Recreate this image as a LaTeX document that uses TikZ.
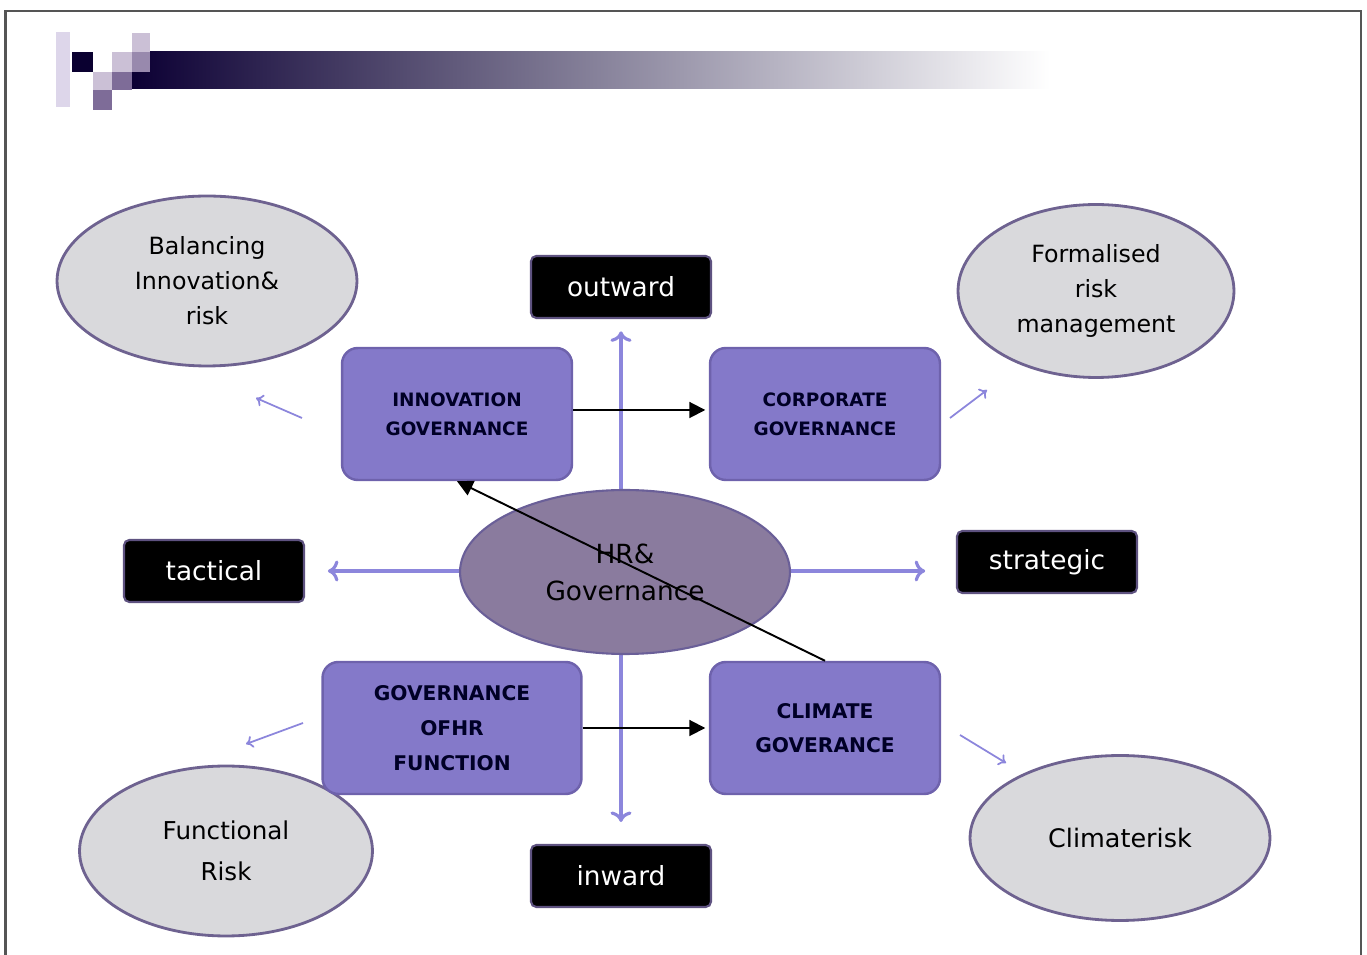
\documentclass[tikz,border=0pt]{standalone}
\usepackage{fontspec}
\setmainfont{DejaVu Sans}
\usepackage[HTML]{xcolor}
\usepackage{tikz}
\usetikzlibrary{positioning, arrows, arrows.meta, shapes.geometric}

\definecolor{boxfill}{HTML}{8479C9}
\definecolor{boxline}{HTML}{6E62AC}
\definecolor{hubfill}{HTML}{8A7B9E}
\definecolor{hubline}{HTML}{6A5F98}
\definecolor{ovalfill}{HTML}{D9D9DC}
\definecolor{ovalline}{HTML}{6E6290}
\definecolor{axisline}{HTML}{8C86DC}
\definecolor{tagline}{HTML}{5E5280}
\definecolor{framegray}{HTML}{555555}
\definecolor{bardark}{HTML}{0C0034}
\definecolor{barmid}{HTML}{856A7C}
\definecolor{sqdark}{HTML}{0A0030}
\definecolor{sqlight}{HTML}{CBC0D6}
\definecolor{sqmid}{HTML}{7E6C98}
\definecolor{sqpale}{HTML}{DDD6EA}

\begin{document}
\begin{tikzpicture}[x=0.02cm, y=-0.02cm,
  oval/.style={ellipse, draw=ovalline, line width=1.6pt, fill=ovalfill, align=center, inner sep=0pt, font=\fontsize{13.5}{20}\selectfont},
  tag/.style={rectangle, rounded corners=3pt, draw=tagline, line width=1.2pt, fill=black, text=white, minimum width=3.6cm, minimum height=1.24cm, font=\fontsize{15}{18}\selectfont},
  govbox/.style={rectangle, rounded corners=9pt, draw=boxline, line width=1.4pt, fill=boxfill, text=black!85!blue, align=center, minimum width=4.6cm, minimum height=2.64cm},
  axis/.style={draw=axisline, line width=1.8pt, {To[length=6pt,width=12pt]}-{To[length=6pt,width=12pt]}},
  link/.style={-{Triangle[length=9pt,width=9pt]}, line width=1.1pt},
  hint/.style={-{To[length=4pt,width=7pt]}, draw=axisline, line width=1pt}]
\useasboundingbox (0,0) rectangle (1367,955);

% frame
\draw[framegray, line width=1.2pt] (5.5,955) -- (5.5,11) -- (1361,11) -- (1361,955);

% header bar
\shade[left color=bardark, middle color=barmid, right color=white] (132,52) rectangle (1050,89);
\fill[sqpale] (56,32) rectangle (70,107);
\fill[sqdark] (72,52) rectangle (93,72);
\fill[sqlight] (112,52) rectangle (132,72);
\fill[sqlight] (132,33) rectangle (150,52);
\fill[sqmid!80!white] (132,52) rectangle (150,72);
\fill[sqlight] (93,72) rectangle (112,90);
\fill[sqmid] (112,72) rectangle (132,90);
\fill[sqmid] (93,90) rectangle (112,110);

% outer ovals
\node[oval, minimum width=6cm, minimum height=3.4cm] (balance) at (207,281) {Balancing\\Innovation\&\\risk};
\node[oval, minimum width=5.52cm, minimum height=3.46cm] (formal) at (1096,291) {Formalised\\risk\\management};
\node[oval, minimum width=5.86cm, minimum height=3.4cm, font=\fontsize{14}{23}\selectfont] (funcrisk) at (226,851) {Functional\\Risk};
\node[oval, minimum width=6cm, minimum height=3.3cm, font=\fontsize{14.5}{20}\selectfont] (climrisk) at (1120,838) {Climaterisk};

% direction tags
\node[tag] (outward) at (621,287) {outward};
\node[tag] (inward) at (621,876) {inward};
\node[tag] (tactical) at (214,571) {tactical};
\node[tag] (strategic) at (1047,562) {strategic};

% axes
\draw[axis, shorten <=7pt, shorten >=12.5pt] (outward) -- (inward);
\draw[axis, shorten <=13pt, shorten >=17.5pt] (tactical.east) -- (tactical.east -| strategic.west);

% centre
\node[ellipse, draw=hubline, line width=1.2pt, fill=hubfill, minimum width=6.6cm, minimum height=3.28cm, align=center, font=\fontsize{15}{21}\selectfont] (hub) at (625,572) {HR\&\\Governance};

% governance boxes
\node[govbox, font=\bfseries\fontsize{10.5}{16.5}\selectfont] (innov) at (457,414) {INNOVATION\\GOVERNANCE};
\node[govbox, font=\bfseries\fontsize{10.5}{16.5}\selectfont] (corp) at (825,414) {CORPORATE\\GOVERNANCE};
\node[govbox, minimum width=5.18cm, font=\bfseries\fontsize{11.5}{20}\selectfont] (govhr) at (452,728) {GOVERNANCE\\OFHR\\FUNCTION};
\node[govbox, font=\bfseries\fontsize{11.5}{19.5}\selectfont] (climate) at (825,728) {CLIMATE\\GOVERANCE};

% links
\draw[link, shorten >=2pt] (innov.east |- 0,410) -- (corp.west |- 0,410);
\draw[link, shorten >=2pt] (govhr.east) -- (climate.west);
\draw[link] (climate.north) -- (innov.south);

% small pointers
\coordinate (tl1) at (302,418);
\coordinate (tl2) at (256,398);
\coordinate (tr1) at (950,418);
\coordinate (tr2) at (987,390);
\coordinate (bl1) at (303,723);
\coordinate (bl2) at (246,744);
\coordinate (br1) at (960,735);
\coordinate (br2) at (1006,763);
\draw[hint] (tl1) -- (tl2);
\draw[hint] (tr1) -- (tr2);
\draw[hint] (bl1) -- (bl2);
\draw[hint] (br1) -- (br2);
\end{tikzpicture}
\end{document}
